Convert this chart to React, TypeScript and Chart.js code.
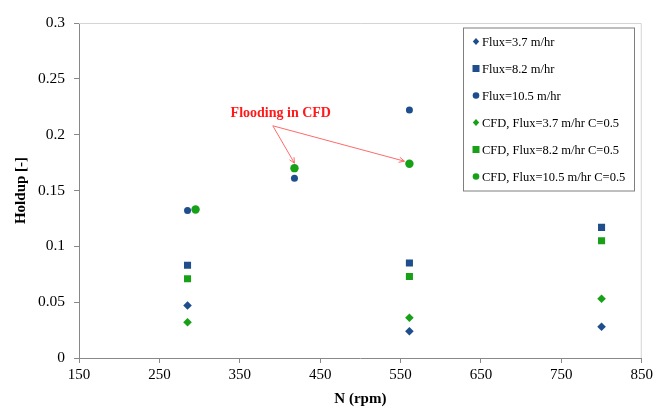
import React, { useEffect, useRef } from "react";
import { Chart, registerables } from "chart.js";

Chart.register(...registerables);

// Experimental data (rpm, holdup)
const rpmExp = [285, 418, 561, 800];
const flux37 = [0.047, null, 0.024, 0.028];
const flux82 = [0.083, null, 0.085, 0.117];
const flux105 = [0.132, 0.161, 0.222, null];

// CFD data
const rpmCfd = [285, 418, 561, 800];
const cfd37 = [0.032, null, 0.036, 0.053];
const cfd82 = [0.071, null, 0.073, 0.105];
const rpmCfd105 = [295, 418, 561];
const cfd105 = [0.133, 0.17, 0.174];

const seriesLabels = [
  "Flux=3.7 m/hr",
  "Flux=8.2 m/hr",
  "Flux=10.5 m/hr",
  "CFD, Flux=3.7 m/hr C=0.5",
  "CFD, Flux=8.2 m/hr C=0.5",
  "CFD, Flux=10.5 m/hr C=0.5",
];

const xTicks = [150, 250, 350, 450, 550, 650, 750, 850];
const yTicks = [0, 0.05, 0.1, 0.15, 0.2, 0.25, 0.3];

const annotationText = "Flooding in CFD";
const annotationAt = { x: 401, y: 0.2187 };
const floodingIdx = [1, 2]; // indices in CFD 10.5 series

const BLUE = "#1f4e8c";
const GREEN = "#18a018";
const SERIF = "'Liberation Serif', 'Times New Roman', serif";

function pts(xs: number[], ys: (number | null)[]) {
  const out: { x: number; y: number }[] = [];
  xs.forEach((x, i) => {
    const y = ys[i];
    if (y !== null && y !== undefined) out.push({ x, y });
  });
  return out;
}

const frameLegendPlugin = {
  id: "frameLegend",
  afterDraw(chart: any) {
    const ctx = chart.ctx;
    const { left, right, top, bottom } = chart.chartArea;
    ctx.save();
    // light frame top/right
    ctx.strokeStyle = "#d4d4d4";
    ctx.lineWidth = 1;
    ctx.beginPath();
    ctx.moveTo(left, top + 0.5);
    ctx.lineTo(right - 0.5, top + 0.5);
    ctx.lineTo(right - 0.5, bottom);
    ctx.stroke();

    // annotation
    const xs = chart.scales.x;
    const ys = chart.scales.y;
    const tx = xs.getPixelForValue(annotationAt.x);
    const ty = ys.getPixelForValue(annotationAt.y);
    ctx.font = `bold 14px ${SERIF}`;
    ctx.fillStyle = "#ff1a1a";
    ctx.textAlign = "center";
    ctx.textBaseline = "middle";
    ctx.fillText(annotationText, tx, ty);
    const sx = tx - 8;
    const sy = ty + 12;
    ctx.strokeStyle = "#ff6a6a";
    ctx.lineWidth = 1;
    floodingIdx.forEach((i, k) => {
      const px = xs.getPixelForValue(rpmCfd105[i]);
      const py = ys.getPixelForValue(cfd105[i]);
      let ex: number, ey: number;
      if (k === 0) {
        ex = px;
        ey = py - 5;
      } else {
        ex = px - 5;
        ey = py - 2.5;
      }
      const ang = Math.atan2(ey - sy, ex - sx);
      ctx.beginPath();
      ctx.moveTo(sx, sy);
      ctx.lineTo(ex, ey);
      const h = 6;
      ctx.moveTo(ex - h * Math.cos(ang - 0.45), ey - h * Math.sin(ang - 0.45));
      ctx.lineTo(ex, ey);
      ctx.lineTo(ex - h * Math.cos(ang + 0.45), ey - h * Math.sin(ang + 0.45));
      ctx.stroke();
    });

    // legend box
    const lx = 463, ly = 27.5, lw = 171, lh = 163;
    ctx.fillStyle = "#ffffff";
    ctx.fillRect(lx, ly, lw, lh);
    ctx.strokeStyle = "#7f7f7f";
    ctx.lineWidth = 1;
    ctx.strokeRect(lx + 0.5, ly + 0.5, lw, lh);
    ctx.font = `12.5px ${SERIF}`;
    ctx.textAlign = "left";
    ctx.textBaseline = "middle";
    chart.data.datasets.forEach((ds: any, i: number) => {
      const cy = ly + 14 + i * 27;
      const mx = lx + 13;
      ctx.fillStyle = ds.backgroundColor;
      ctx.beginPath();
      if (ds.pointStyle === "rectRot") {
        ctx.moveTo(mx, cy - 3.5);
        ctx.lineTo(mx + 3.2, cy);
        ctx.lineTo(mx, cy + 3.5);
        ctx.lineTo(mx - 3.2, cy);
        ctx.closePath();
      } else if (ds.pointStyle === "rect") {
        ctx.rect(mx - 3.5, cy - 3.5, 7, 7);
      } else {
        ctx.arc(mx, cy, 3.3, 0, Math.PI * 2);
      }
      ctx.fill();
      ctx.fillStyle = "#000000";
      ctx.fillText(ds.label, lx + 19, cy + 1);
    });
    ctx.restore();
  },
};

export default function App() {
  const ref = useRef<HTMLCanvasElement | null>(null);
  useEffect(() => {
    if (!ref.current) return;
    const mk = (label: string, data: any, color: string, style: string, r: number) => ({
      label,
      data,
      backgroundColor: color,
      borderColor: color,
      borderWidth: 0,
      pointStyle: style,
      pointRadius: r,
      pointHoverRadius: r,
      showLine: false,
    });
    const chart = new Chart(ref.current, {
      type: "scatter",
      data: {
        datasets: [
          mk(seriesLabels[0], pts(rpmExp, flux37), BLUE, "rectRot", 4.3),
          mk(seriesLabels[1], pts(rpmExp, flux82), BLUE, "rect", 5),
          mk(seriesLabels[2], pts(rpmExp, flux105), BLUE, "circle", 3.5),
          mk(seriesLabels[3], pts(rpmCfd, cfd37), GREEN, "rectRot", 4.3),
          mk(seriesLabels[4], pts(rpmCfd, cfd82), GREEN, "rect", 5),
          mk(seriesLabels[5], pts(rpmCfd105, cfd105), GREEN, "circle", 4.2),
        ] as any,
      },
      options: {
        responsive: false,
        animation: false,
        layout: { padding: { left: 0, top: 23, right: 13, bottom: 0 } },
        plugins: { legend: { display: false }, tooltip: { enabled: false } },
        scales: {
          x: {
            type: "linear",
            min: 150,
            max: 850,
            afterBuildTicks: (s: any) => {
              s.ticks = xTicks.map((v) => ({ value: v }));
            },
            afterFit: (s: any) => {
              s.height = 50;
            },
            ticks: {
              font: { family: SERIF, size: 15 },
              color: "#000",
              padding: 3,
              maxRotation: 0,
              callback: (v: any) => String(v),
            },
            grid: { drawOnChartArea: false, tickLength: 5, color: "#888", tickColor: "#888" },
            border: { color: "#888", width: 1 },
            title: {
              display: true,
              text: "N (rpm)",
              font: { family: SERIF, size: 15, weight: "bold" },
              color: "#000",
              padding: { top: 0, bottom: 0 },
            },
          },
          y: {
            type: "linear",
            min: 0,
            max: 0.3,
            afterBuildTicks: (s: any) => {
              s.ticks = yTicks.map((v) => ({ value: v }));
            },
            afterFit: (s: any) => {
              s.width = 79;
            },
            ticks: {
              font: { family: SERIF, size: 15.5 },
              color: "#000",
              padding: 9,
              callback: (v: any) => String(Number(Number(v).toFixed(2))),
            },
            grid: { drawOnChartArea: false, tickLength: 5, color: "#888", tickColor: "#888" },
            border: { color: "#888", width: 1 },
            title: {
              display: true,
              text: "Holdup [-]",
              font: { family: SERIF, size: 15, weight: "bold" },
              color: "#000",
              padding: { top: 12, bottom: 0 },
            },
          },
        },
      },
      plugins: [frameLegendPlugin],
    } as any);
    return () => chart.destroy();
  }, []);
  return (
    <div style={{ position: "fixed", left: 0, top: 0, width: 656, height: 408, background: "#fff" }}>
      <canvas ref={ref} width={656} height={408} style={{ display: "block" }} />
    </div>
  );
}
